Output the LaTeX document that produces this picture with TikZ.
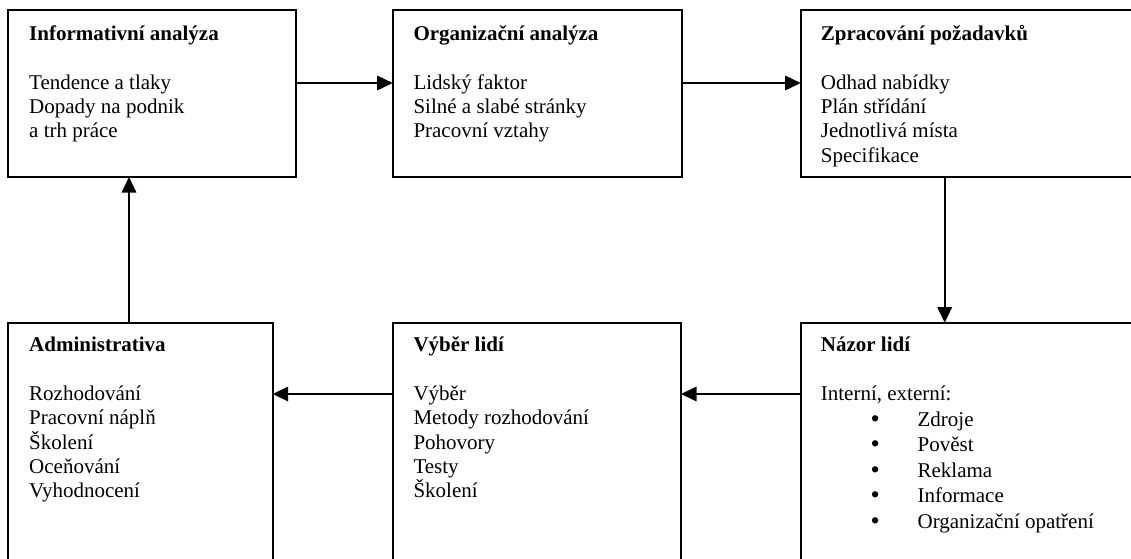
\documentclass[tikz,border=0pt]{standalone}
\usepackage{fontspec}
\setmainfont{Liberation Serif}
\usetikzlibrary{arrows.meta}
\newcommand{\hd}[1]{\rule{0pt}{20pt}\textbf{#1}}
\newcommand{\bul}[1]{\hspace*{49.7pt}\raisebox{-1pt}{\scalebox{1.25}{\textbullet}}\hspace*{37.8pt}#1}
\begin{document}
\begin{tikzpicture}[x=1pt,y=-1pt]
        \tikzstyle{box}=[draw=black,line width=2pt,inner sep=0pt,outer sep=0pt,anchor=north west]
        \tikzstyle{txt}=[anchor=north west,align=left,inner sep=0pt,font=\fontsize{21pt}{24.3pt}\selectfont]
        \tikzstyle{edge}=[draw,line width=1.6pt,-{Triangle[length=15.5pt,width=14.5pt]}]
        \useasboundingbox (0,0) rectangle (1131,558);
        \clip (0,0) rectangle (1131,558);
    	\begin{scope}
         \node [box,minimum width=288pt,minimum height=167pt] (inf) at (8,10) {};
         \node [box,minimum width=289pt,minimum height=167pt] (org) at (392.7,10) {};
         \node [box,minimum width=344pt,minimum height=167pt] (zpr) at (800.7,10) {};
         \node [box,minimum width=264.7pt,minimum height=252.3pt] (adm) at (8,322.7) {};
         \node [box,minimum width=288.3pt,minimum height=252.3pt] (vyb) at (392.7,322.7) {};
         \node [box,minimum width=344pt,minimum height=252.3pt] (naz) at (800.7,322.7) {};

         \node [txt] (inft) at ([shift={(21,10.5)}]inf.north west) {\hd{Informativní analýza}\\ \\Tendence a tlaky\\Dopady na podnik\\a trh práce};
         \node [txt] (orgt) at ([shift={(20.6,10.5)}]org.north west) {\hd{Organizační analýza}\\ \\Lidský faktor\\Silné a slabé stránky\\Pracovní vztahy};
         \node [txt] (zprt) at ([shift={(20,10.5)}]zpr.north west) {\hd{Zpracování požadavků}\\ \\Odhad nabídky\\Plán střídání\\Jednotlivá místa\\Specifikace};
         \node [txt] (admt) at ([shift={(21,9)}]adm.north west) {\hd{Administrativa}\\ \\Rozhodování\\Pracovní náplň\\Školení\\Oceňování\\Vyhodnocení};
         \node [txt] (vybt) at ([shift={(20.6,9)}]vyb.north west) {\hd{Výběr lidí}\\ \\Výběr\\Metody rozhodování\\Pohovory\\Testy\\Školení};
         \node [txt] (nazt) at ([shift={(20,9)}]naz.north west) {\hd{Názor lidí}\\ \\Interní, externí:\\[1.3pt]\bul{Zdroje}\\[1.3pt]\bul{Pověst}\\[1.3pt]\bul{Reklama}\\[1.3pt]\bul{Informace}\\[1.3pt]\bul{Organizační opatření}};

         \path[edge] ([yshift=10.5pt]inf.east) to ([yshift=10.5pt]org.west);
         \path[edge] ([yshift=10.5pt]org.east) to ([yshift=10.5pt]org.east -| zpr.west);
         \path[edge] ([xshift=144pt]zpr.south west) to ([xshift=144pt]naz.north west);
         \path[edge] ([yshift=-71.3pt]naz.north west) to ([yshift=-71.3pt]vyb.north east);
         \path[edge] ([yshift=-71.3pt]vyb.north west) to ([yshift=-71.3pt]adm.north east);
         \path[edge] ([xshift=121pt]adm.north west) to ([xshift=121pt]inf.south west);
         \end{scope}

      \end{tikzpicture}
\end{document}
